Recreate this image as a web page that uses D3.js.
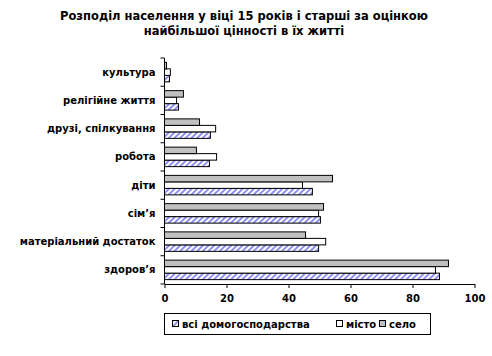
<!DOCTYPE html>
<html><head><meta charset="utf-8">
<script src="https://cdn.jsdelivr.net/npm/d3@7"></script>
<style>
body{margin:0;background:#fff;}
svg{display:block;}
text{font-family:"DejaVu Sans",Verdana,sans-serif;font-weight:bold;fill:#000;}
</style></head><body>
<svg id="c" width="492" height="356"></svg>
<script>
const titleLines = ["Розподіл населення у віці 15 років і старші за оцінкою", "найбільшої цінності в їх житті"];
const categories = ["здоров\u2019я", "матеріальний достаток", "сім\u2019я", "діти", "робота", "друзі, спілкування", "релігійне життя", "культура"];
const seriesNames = ["всі домогосподарства", "місто", "село"];
const allHouseholds = [88.7, 49.7, 50.3, 47.7, 14.5, 14.8, 4.5, 1.6];
const city = [87.4, 52.0, 49.7, 44.5, 16.8, 16.5, 3.9, 1.9];
const village = [91.6, 45.5, 51.3, 54.2, 10.3, 11.3, 6.1, 0.65];
const xTicks = [0, 20, 40, 60, 80, 100];

const series = [
  {name: seriesNames[0], values: allHouseholds, fill: "url(#hatch)"},
  {name: seriesNames[1], values: city, fill: "#ffffff"},
  {name: seriesNames[2], values: village, fill: "#c0c0c0"}
];

const svg = d3.select("#c");
const defs = svg.append("defs");
const pat = defs.append("pattern").attr("id", "hatch").attr("patternUnits", "userSpaceOnUse")
  .attr("width", 4).attr("height", 4).attr("patternTransform", "rotate(45)");
pat.append("rect").attr("width", 4).attr("height", 4).attr("fill", "#ffffff");
pat.append("rect").attr("width", 2).attr("height", 4).attr("fill", "#9090f0");

// title
svg.append("g").selectAll("text").data(titleLines).join("text")
  .attr("x", 244).attr("y", (d, i) => 20 + i * 15)
  .attr("text-anchor", "middle").style("font-size", "11.5px").text(d => d);

const x = d3.scaleLinear().domain([0, 100]).range([164.5, 474.5]);
const y = d3.scaleBand().domain(categories.slice().reverse()).range([58, 284])
  .paddingInner(0.31).paddingOuter(0.155);
const inner = d3.scaleBand().domain([seriesNames[2], seriesNames[1], seriesNames[0]]).range([0, y.bandwidth()]);

const bars = svg.append("g");
series.forEach(s => {
  bars.append("g").selectAll("rect").data(categories.map((c, i) => ({c, v: s.values[i]}))).join("rect")
    .attr("x", x(0))
    .attr("y", d => y(d.c) + inner(s.name))
    .attr("width", d => x(d.v) - x(0))
    .attr("height", inner.bandwidth())
    .attr("fill", s.fill).attr("stroke", "#000").attr("stroke-width", 1);
});

// x axis
const xAxis = svg.append("g").attr("transform", "translate(0,284)")
  .call(d3.axisBottom(x).tickValues(xTicks).tickSize(4).tickSizeOuter(0).tickPadding(7));
xAxis.selectAll("text").style("font-size", "10px");
xAxis.selectAll("path,line").attr("stroke", "#000");

// y axis
const yAxisG = svg.append("g").attr("transform", `translate(${x(0)},0)`);
yAxisG.append("line").attr("x1", 0).attr("x2", 0).attr("y1", 58).attr("y2", 284).attr("stroke", "#000");
const step = y.step();
const boundaries = d3.range(categories.length + 1).map(i => 58 + i * step);
yAxisG.selectAll("line.t").data(boundaries).join("line").attr("class", "t")
  .attr("x1", -4).attr("x2", 0).attr("y1", d => d).attr("y2", d => d).attr("stroke", "#000");
yAxisG.selectAll("text").data(categories).join("text")
  .attr("x", -9).attr("y", d => y(d) + y.bandwidth() / 2).attr("dy", "0.35em")
  .attr("text-anchor", "end").style("font-size", "10px").text(d => d);

// legend
const lg = svg.append("g");
lg.append("rect").attr("x", 164.5).attr("y", 313.5).attr("width", 266).attr("height", 21)
  .attr("fill", "none").attr("stroke", "#000");
const legendX = [172, 336, 379];
series.forEach((s, i) => {
  lg.append("rect").attr("x", legendX[i] + 0.5).attr("y", 320.5).attr("width", 6).attr("height", 6)
    .attr("fill", s.fill).attr("stroke", "#000");
  lg.append("text").attr("x", legendX[i] + 10).attr("y", 327.5).style("font-size", "10px").text(s.name);
});
</script>
</body></html>
